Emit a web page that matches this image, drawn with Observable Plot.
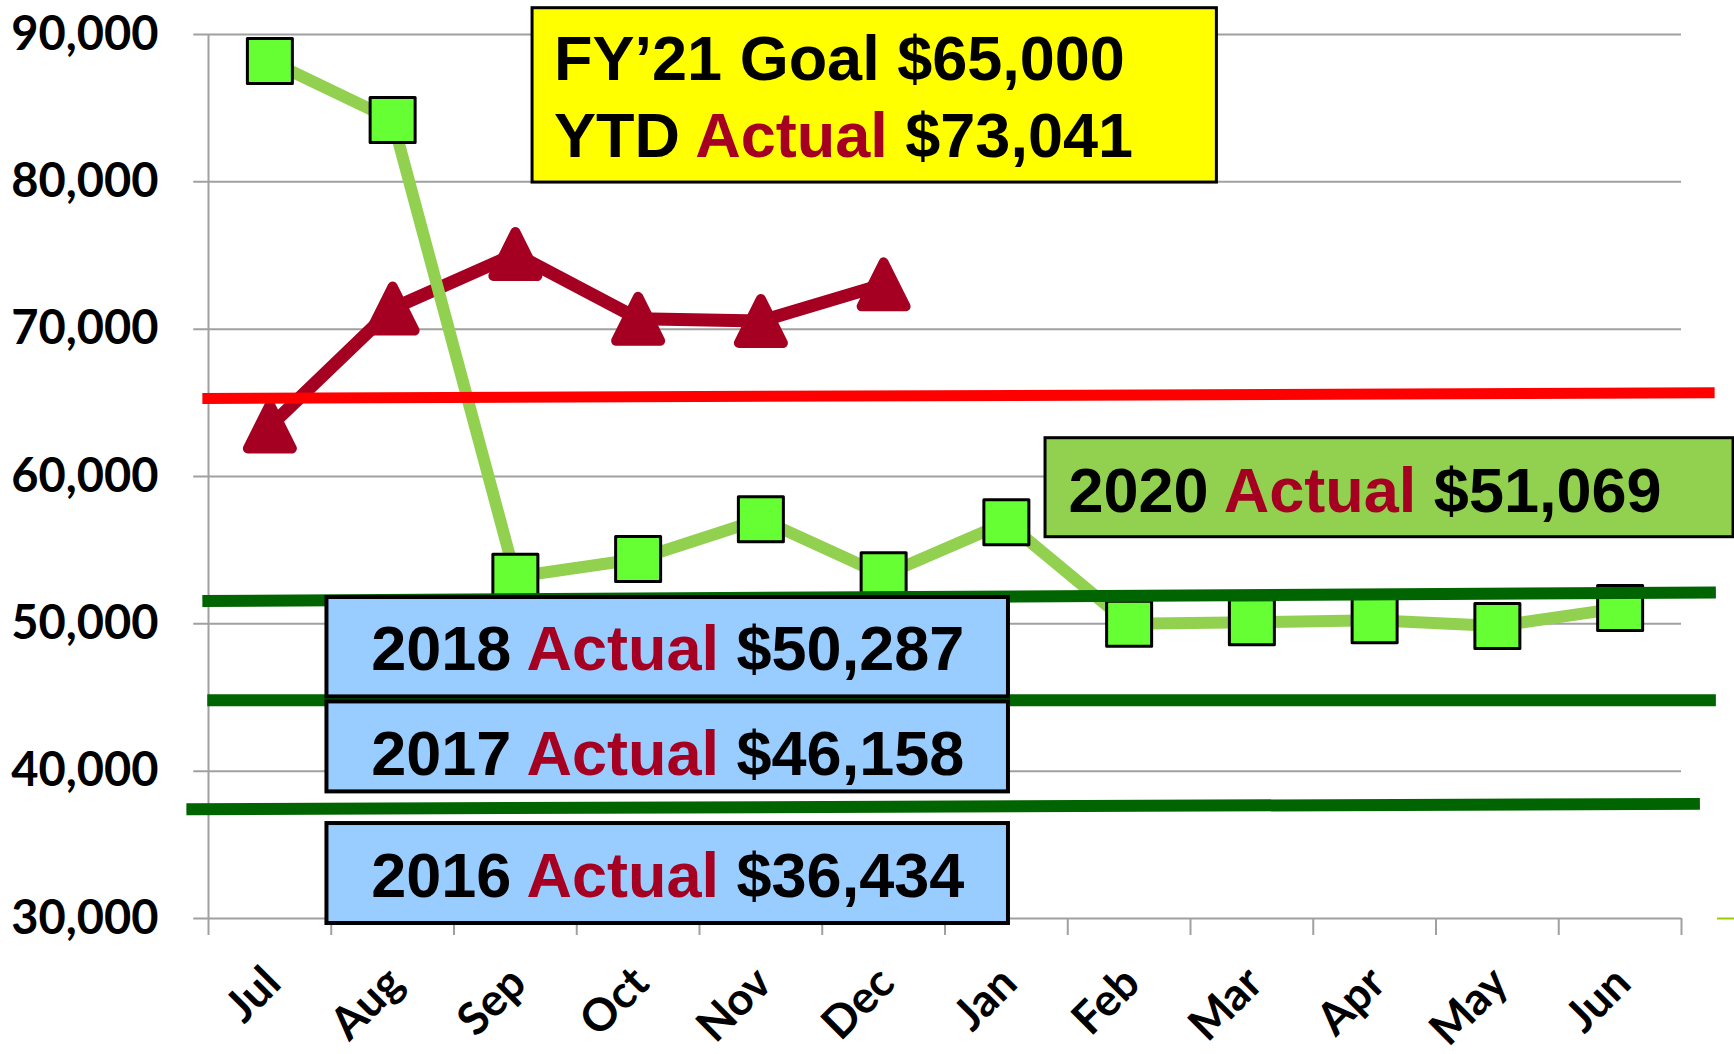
<!DOCTYPE html>
<html><head><meta charset="utf-8">
<script src="https://cdn.jsdelivr.net/npm/d3@7"></script>
<script src="https://cdn.jsdelivr.net/npm/@observablehq/plot@0.6"></script>
<style>body{margin:0;background:#fff} svg{display:block}</style>
</head><body><div id="chart"></div>
<script>
// ---- data ----
const months = ["Jul","Aug","Sep","Oct","Nov","Dec","Jan","Feb","Mar","Apr","May","Jun"];
const series2020 = [88200, 84200, 53200, 54400, 57100, 53300, 56900, 50000, 50100, 50250, 49850, 51070];
const seriesYTD = [63400, 71400, 75100, 70700, 70550, 73041];
const yTicks = [30000, 40000, 50000, 60000, 70000, 80000, 90000];
const refNames = ["FY’21 Goal", "2018 Actual", "2017 Actual", "2016 Actual"];
const refStartValue = [65300, 51550, 44820, 37420];
const refEndValue = [65680, 52130, 44820, 37780];
const boxTexts = [
  ["FY’21 Goal $65,000", "YTD Actual $73,041"],
  ["2020 Actual $51,069"],
  ["2018 Actual $50,287"],
  ["2017 Actual $46,158"],
  ["2016 Actual $36,434"]
];

// ---- layout (annotation placement, in chart units) ----
const refLayout = [
  {x1: -0.05, x2: 12.27, color: "#FF0000", w: 11},
  {x1: -0.05, x2: 12.28, color: "#006400", w: 12},
  {x1: -0.01, x2: 12.28, color: "#006400", w: 12},
  {x1: -0.18, x2: 12.15, color: "#006400", w: 12}
];
const boxLayout = [
  {x1: 2.64, x2: 8.215, y1: 91785, y2: 79950, fill: "#FFFF00", sw: 3, tx: 2.815, ty: [86897, 81692], anchor: "start"},
  {x1: 6.819, x2: 12.424, y1: 62599, y2: 55879, fill: "#92D050", sw: 3, tx: 7.006, ty: [57575], anchor: "start"},
  {x1: 0.965, x2: 6.517, y1: 51787, y2: 45040, fill: "#99CCFF", sw: 4, tx: 3.741, ty: [46853], anchor: "middle"},
  {x1: 0.965, x2: 6.517, y1: 44700, y2: 38593, fill: "#99CCFF", sw: 4, tx: 3.741, ty: [39725], anchor: "middle"},
  {x1: 0.965, x2: 6.517, y1: 36445, y2: 29660, fill: "#99CCFF", sw: 4, tx: 3.741, ty: [31465], anchor: "middle"}
];

const data2020 = months.map((m, i) => ({i, month: m, value: series2020[i]}));
const dataYTD = seriesYTD.map((v, i) => ({i, month: months[i], value: v}));
const refs = refNames.map((n, k) => ({name: n, y1: refStartValue[k], y2: refEndValue[k], ...refLayout[k]}));
const boxes = boxTexts.map((lines, k) => ({lines, ...boxLayout[k]}));
const boxLines = boxes.flatMap(b => b.lines.map((t, j) => ({text: t, x: b.tx, y: b.ty[j], anchor: b.anchor})));

const tri = {draw(ctx, size) { const r = Math.sqrt(size / Math.PI); ctx.moveTo(0, -r); ctx.lineTo(r, r); ctx.lineTo(-r, r); ctx.closePath(); }};
const sq = {draw(ctx, size) { const r = Math.sqrt(size / Math.PI); ctx.rect(-r, -r, 2 * r, 2 * r); }};

const calib = "Lato, 'Open Sans', sans-serif";
const arial = "'Liberation Sans', Arial, sans-serif";
const grid = "#A0A0A0";

const chart = Plot.plot({
  width: 1734, height: 1054,
  marginLeft: 208, marginRight: 53, marginTop: 34, marginBottom: 136,
  x: {domain: [0, 12], axis: null},
  y: {domain: [30000, 90000], axis: null},
  marks: [
    Plot.ruleY(yTicks, {x1: -0.12, x2: 12, stroke: grid, strokeWidth: 2}),
    Plot.ruleX([0], {y1: 30000, y2: 90000, stroke: grid, strokeWidth: 2}),
    Plot.ruleX(d3.range(13), {y1: 30000, y2: 28846, stroke: grid, strokeWidth: 2}),
    Plot.text(yTicks, {x: 0, y: d => d, text: d => d3.format(",")(d), dx: -50, textAnchor: "end", lineAnchor: "middle",
      fontFamily: calib, fontWeight: "bold", fontSize: 47, fill: "#000"}),
    Plot.text(months, {x: (d, i) => i + 0.5, y: 30000, text: d => d, rotate: -45, textAnchor: "end", lineAnchor: "middle",
      dx: 3, dy: 57, fontFamily: calib, fontWeight: "bold", fontSize: 45, fill: "#000"}),
    Plot.line(dataYTD, {x: d => d.i + 0.5, y: "value", stroke: "#A50021", strokeWidth: 13, strokeLinejoin: "round"}),
    Plot.dot(dataYTD, {x: d => d.i + 0.5, y: "value", symbol: tri, r: 22, fill: "#A50021", stroke: "#A50021", strokeWidth: 10, strokeLinejoin: "round"}),
    Plot.line(data2020, {x: d => d.i + 0.5, y: "value", stroke: "#92D050", strokeWidth: 12, strokeLinejoin: "round"}),
    Plot.dot(data2020, {x: d => d.i + 0.5, y: "value", symbol: sq, r: 22.5, fill: "#66FF33", stroke: "#000", strokeWidth: 3, strokeLinejoin: "round"}),
    Plot.link(refs, {x1: "x1", x2: "x2", y1: "y1", y2: "y2", stroke: d => d.color, strokeWidth: d => d.w, strokeLinecap: "butt"}),
    Plot.link([0], {x1: 12.29, x2: 12.44, y1: 30000, y2: 30000, stroke: "#99CC00", strokeWidth: 2}),
    Plot.rect(boxes, {x1: "x1", x2: "x2", y1: "y1", y2: "y2", fill: d => d.fill, stroke: "#000", strokeWidth: d => d.sw}),
    Plot.text(boxLines.filter(d => d.anchor === "start"), {x: "x", y: "y", text: "text", textAnchor: "start", lineAnchor: "bottom",
      fontFamily: arial, fontWeight: "bold", fontSize: 63, fill: "#000"}),
    Plot.text(boxLines.filter(d => d.anchor === "middle"), {x: "x", y: "y", text: "text", textAnchor: "middle", lineAnchor: "bottom",
      fontFamily: arial, fontWeight: "bold", fontSize: 63, fill: "#000"})
  ]
});
// colour the word "Actual" inside the annotation boxes
chart.querySelectorAll("text").forEach(t => {
  const s = t.textContent;
  if (s.includes("Actual") && t.childElementCount === 0) {
    const parts = s.split("Actual");
    t.textContent = "";
    const ns = "http://www.w3.org/2000/svg";
    const a = document.createElementNS(ns, "tspan"); a.textContent = parts[0];
    const b = document.createElementNS(ns, "tspan"); b.textContent = "Actual"; b.setAttribute("fill", "#A50021");
    const c = document.createElementNS(ns, "tspan"); c.textContent = parts[1];
    t.append(a, b, c);
  }
});
document.getElementById("chart").append(chart);
</script>
</body></html>
